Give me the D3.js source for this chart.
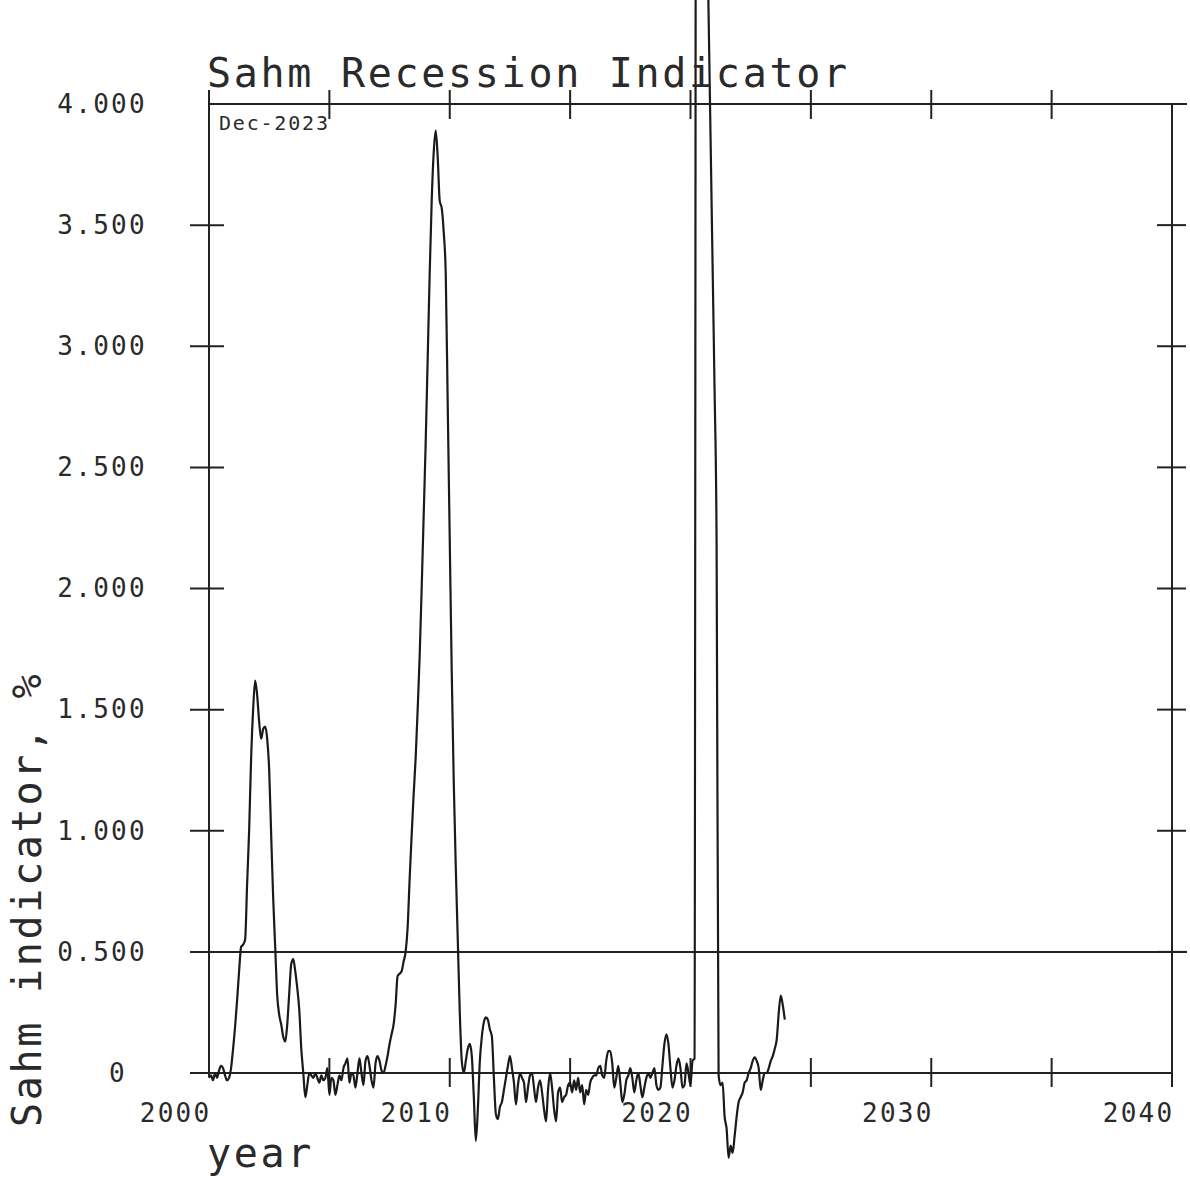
<!DOCTYPE html>
<html>
<head>
<meta charset="UTF-8" />
<title>Sahm Recession Indicator</title>
<script src="https://cdn.jsdelivr.net/npm/d3@7"></script>
<style>
body{margin:0;background:#fff;}
svg text{font-family:"DejaVu Sans Mono",monospace;fill:#2a2a2a;}
</style>
</head>
<body>
<div id="svg_container"></div>
<script type="text/javascript">
var w=1190,h=1179;

// monthly values, Jan 2000 .. Dec 2023
var startYear=2000;
var sahm=[
 -0.02,-0.01,-0.03,0.0,-0.02,0.01,0.03,0.02,-0.01,-0.03,-0.02,0.02,
 0.1,0.19,0.3,0.42,0.52,0.53,0.55,0.78,1.0,1.3,1.5,1.62,
 1.56,1.45,1.38,1.42,1.43,1.38,1.25,0.98,0.72,0.52,0.32,0.24,
 0.2,0.15,0.13,0.2,0.33,0.45,0.47,0.42,0.35,0.26,0.1,0.0,
 -0.1,-0.05,0.0,-0.01,-0.02,0.0,-0.02,-0.04,-0.01,-0.03,-0.02,0.02,
 -0.09,-0.02,-0.03,-0.09,-0.05,-0.01,-0.03,0.02,0.04,0.06,-0.04,0.0,
 -0.01,-0.06,0.0,0.06,0.0,-0.05,0.05,0.07,0.03,-0.03,-0.06,0.04,
 0.07,0.05,0.01,0.0,0.03,0.07,0.12,0.16,0.2,0.28,0.4,0.41,
 0.42,0.46,0.5,0.6,0.8,0.98,1.15,1.3,1.5,1.72,2.0,2.3,
 2.6,2.95,3.3,3.6,3.8,3.89,3.78,3.6,3.57,3.47,3.3,2.75,
 2.2,1.65,1.2,0.85,0.55,0.25,0.05,0.0,0.05,0.1,0.12,0.07,
 -0.1,-0.28,-0.15,0.05,0.15,0.21,0.23,0.22,0.18,0.15,-0.02,-0.17,
 -0.19,-0.14,-0.12,-0.07,-0.02,0.03,0.07,0.02,-0.04,-0.13,-0.05,0.0,
 -0.02,-0.04,-0.12,-0.06,-0.01,0.0,-0.06,-0.12,-0.06,-0.03,-0.08,-0.15,
 -0.2,-0.07,0.0,-0.06,-0.15,-0.2,-0.08,-0.06,-0.12,-0.1,-0.09,-0.05,
 -0.04,-0.08,-0.03,-0.07,-0.02,-0.08,-0.05,-0.13,-0.07,-0.09,-0.04,-0.02,
 -0.01,-0.01,0.02,0.03,-0.01,-0.02,0.05,0.09,0.09,0.04,-0.06,-0.02,
 0.03,-0.04,-0.12,-0.09,-0.03,-0.01,0.02,-0.02,-0.08,-0.03,0.0,-0.05,
 -0.1,-0.06,-0.02,0.0,-0.02,0.0,0.02,-0.05,-0.07,-0.06,0.03,0.12,
 0.16,0.12,0.02,-0.06,-0.03,0.03,0.06,0.02,-0.06,-0.05,0.04,0.0,
 -0.05,0.05,0.06,7.5,6.98,6.46,5.94,5.42,4.9,4.38,3.86,3.34,
 2.82,2.2,-0.01,-0.05,-0.04,-0.18,-0.23,-0.35,-0.3,-0.33,-0.26,-0.18,
 -0.12,-0.1,-0.08,-0.04,-0.03,0.0,0.02,0.05,0.065,0.05,0.02,-0.07,
 -0.03,0.0,0.0,0.02,0.05,0.07,0.1,0.14,0.25,0.32,0.28,0.22
];

var xLabels=[2000,2010,2020,2030,2040];
var xMarks=[2005,2010,2015,2020,2025,2030,2035,2040];
var topMarks=[2000,2005,2010,2015,2020,2025,2030,2035];
var yLabels=[0,0.5,1,1.5,2,2.5,3,3.5,4];
var yMarks=[0.5,1,1.5,2,2.5,3,3.5];
var threshold=0.5;
var lastDate="Dec-2023";

var x=d3.scaleLinear().domain([2000,2040]).range([209,1172]);
var y=d3.scaleLinear().domain([0,4]).range([1073,104]);
var ink="#222";

var svg=d3.select('#svg_container')
          .append('svg')
          .attr('width',w)
          .attr('height',h);

// frame
function seg(x1,y1,x2,y2){
  svg.append('line')
     .attr('x1',x1).attr('y1',y1).attr('x2',x2).attr('y2',y2)
     .attr('stroke',ink).attr('stroke-width',2);
}
seg(x(2000),90,x(2000),y(0)+4);        // left axis
seg(x(2000),y(4),1187,y(4));           // top line
seg(x(2040),y(4),x(2040),y(0)+14);     // right axis
seg(190,y(0),x(2040),y(0));            // zero line
seg(190,y(threshold),1187,y(threshold)); // 0.5 level

// tick marks crossing the frame
svg.selectAll('.ly').data(yMarks).enter().append('line')
   .attr('x1',190).attr('x2',224)
   .attr('y1',function(d){return y(d);}).attr('y2',function(d){return y(d);})
   .attr('stroke',ink).attr('stroke-width',2);
svg.selectAll('.ry').data(yMarks).enter().append('line')
   .attr('x1',1157).attr('x2',1186)
   .attr('y1',function(d){return y(d);}).attr('y2',function(d){return y(d);})
   .attr('stroke',ink).attr('stroke-width',2);
svg.selectAll('.tx').data(topMarks).enter().append('line')
   .attr('x1',function(d){return x(d);}).attr('x2',function(d){return x(d);})
   .attr('y1',90).attr('y2',119)
   .attr('stroke',ink).attr('stroke-width',2);
svg.selectAll('.bx').data(xMarks).enter().append('line')
   .attr('x1',function(d){return x(d);}).attr('x2',function(d){return x(d);})
   .attr('y1',y(0)-15).attr('y2',y(0)+14)
   .attr('stroke',ink).attr('stroke-width',2);

// axis labels via d3 axes
var yAxis=d3.axisLeft(y).tickValues(yLabels).tickSize(0).tickPadding(64)
            .tickFormat(function(d){return d===0?"0":d3.format(".3f")(d);});
var gy=svg.append('g').attr('transform','translate('+x(2000)+',0)').call(yAxis);
gy.select('.domain').remove();
gy.selectAll('text')
  .attr('font-family','"DejaVu Sans Mono",monospace')
  .attr('font-size',26).attr('letter-spacing',2.3).attr('fill','#2a2a2a')
  .attr('dx',function(d){return d===0?-18:2;});

var xAxis=d3.axisBottom(x).tickValues(xLabels).tickSize(0)
            .tickFormat(d3.format("d"));
var gx=svg.append('g').attr('transform','translate(0,'+y(0)+')').call(xAxis);
gx.select('.domain').remove();
gx.selectAll('text')
  .attr('font-family','"DejaVu Sans Mono",monospace')
  .attr('font-size',26).attr('letter-spacing',2.3).attr('fill','#2a2a2a')
  .attr('text-anchor','end').attr('y',49).attr('dy',0).attr('dx',2);

// data
var line=d3.line()
           .x(function(d,i){return x(startYear+i/12);})
           .y(function(d){return y(d);})
           .curve(d3.curveMonotoneX);
svg.append('path')
   .datum(sahm)
   .attr('d',line)
   .attr('fill','none')
   .attr('stroke','#1a1a1a')
   .attr('stroke-width',2.2)
   .attr('stroke-linejoin','round');

// texts
svg.append('text').attr('x',207).attr('y',87)
   .attr('font-size',40).attr('letter-spacing',2.7)
   .text('Sahm Recession Indicator');
svg.append('text').attr('x',219).attr('y',130)
   .attr('font-size',20).attr('letter-spacing',1.8)
   .text(lastDate);
svg.append('text').attr('x',207).attr('y',1167)
   .attr('font-size',40).attr('letter-spacing',2.7)
   .text('year');
svg.append('text')
   .attr('transform','translate(41,1127) rotate(-90)')
   .attr('font-size',40).attr('letter-spacing',2.7)
   .text('Sahm indicator, %');
</script>
</body>
</html>
